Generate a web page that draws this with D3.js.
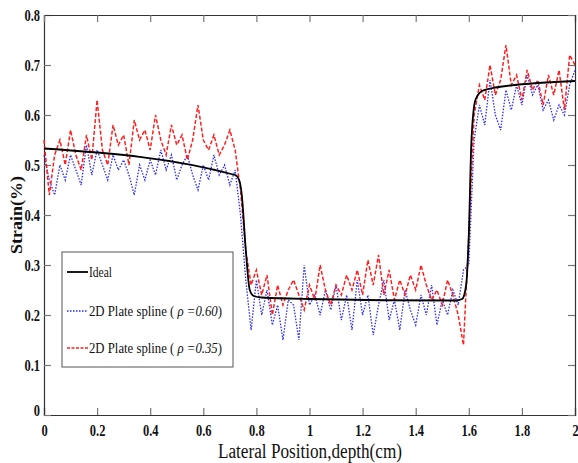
<!DOCTYPE html>
<html>
  <head>
    <script src="https://cdn.jsdelivr.net/npm/d3@7"></script>
    <style>
      body { margin: 0; background: #fff; }
      text { font-family: 'Liberation Serif', 'Times New Roman', serif; }
    </style>
  </head>
  <body>
    <svg width="578" height="463" id="mainsvg"></svg>
    <script>
      const svg = d3.select('#mainsvg');
      const margin = {top: 15, right: 3, bottom: 48, left: 44};
      const innerWidth = 578 - margin.left - margin.right;
      const innerHeight = 463 - margin.top - margin.bottom;

      // sample positions for the noisy series (0 to 2, step 0.02)
      const xPos = d3.range(0, 101).map(i => +(i * 0.02).toFixed(2));
      const redValues = [
        0.55, 0.44, 0.52, 0.55, 0.50, 0.57, 0.52, 0.49, 0.56, 0.51,
        0.63, 0.53, 0.50, 0.58, 0.54, 0.56, 0.50, 0.59, 0.55, 0.57,
        0.53, 0.60, 0.55, 0.52, 0.58, 0.54, 0.56, 0.51, 0.55, 0.62,
        0.55, 0.53, 0.56, 0.52, 0.54, 0.57, 0.53, 0.45, 0.33, 0.26,
        0.29, 0.24, 0.28, 0.20, 0.26, 0.22, 0.25, 0.27, 0.24, 0.21,
        0.26, 0.23, 0.30, 0.25, 0.22, 0.26, 0.24, 0.28, 0.25, 0.29,
        0.24, 0.31, 0.26, 0.32, 0.24, 0.29, 0.23, 0.27, 0.24, 0.28,
        0.25, 0.30, 0.26, 0.23, 0.25, 0.22, 0.27, 0.24, 0.20, 0.14,
        0.36, 0.60, 0.66, 0.63, 0.70, 0.64, 0.67, 0.74, 0.66, 0.68,
        0.63, 0.69, 0.65, 0.67, 0.62, 0.68, 0.64, 0.69, 0.61, 0.72,
        0.70
      ];
      const blueValues = [
        0.52, 0.47, 0.44, 0.50, 0.47, 0.52, 0.49, 0.46, 0.54, 0.48,
        0.53, 0.50, 0.47, 0.52, 0.49, 0.51, 0.48, 0.44, 0.50, 0.47,
        0.51, 0.48, 0.53, 0.49, 0.52, 0.47, 0.50, 0.52, 0.48, 0.45,
        0.50, 0.47, 0.52, 0.48, 0.50, 0.46, 0.49, 0.40, 0.27, 0.17,
        0.27, 0.20, 0.25, 0.18, 0.22, 0.15, 0.23, 0.22, 0.15, 0.30,
        0.22, 0.24, 0.20, 0.25, 0.21, 0.26, 0.19, 0.24, 0.17, 0.27,
        0.20, 0.24, 0.16, 0.22, 0.27, 0.19, 0.23, 0.17, 0.25, 0.21,
        0.18, 0.24, 0.20, 0.26, 0.18, 0.23, 0.20, 0.25, 0.22, 0.29,
        0.30, 0.55, 0.62, 0.58, 0.67, 0.60, 0.57, 0.65, 0.61, 0.66,
        0.62, 0.68, 0.64, 0.66, 0.61, 0.63, 0.59, 0.62, 0.60, 0.66,
        0.69
      ];
      // ideal profile (knots)
      const idealX = [0, 0.72, 0.735, 0.745, 0.76, 0.775, 0.79, 0.82, 1.0, 1.55, 1.575, 1.59, 1.6, 1.61, 1.625, 1.65, 1.7, 2.0];
      const idealY = [0.533, 0.48, 0.47, 0.44, 0.33, 0.25, 0.238, 0.235, 0.232, 0.229, 0.232, 0.26, 0.36, 0.55, 0.63, 0.648, 0.655, 0.668];

      const xTicks = [0, 0.2, 0.4, 0.6, 0.8, 1, 1.2, 1.4, 1.6, 1.8, 2];
      const yTicks = [0, 0.1, 0.2, 0.3, 0.4, 0.5, 0.6, 0.7, 0.8];

      const xScale = d3.scaleLinear().domain([0, 2]).range([0, innerWidth]);
      const yScale = d3.scaleLinear().domain([0, 0.8]).range([innerHeight, 0]);

      const g = svg.append('g')
        .attr('transform', `translate(${margin.left}, ${margin.top})`)
        .attr('id', 'maingroup');

      // axes with inward ticks
      const xAxis = d3.axisBottom(xScale).tickValues(xTicks).tickSize(-7).tickPadding(10)
        .tickFormat(d => d3.format('')(d));
      const yAxis = d3.axisLeft(yScale).tickValues(yTicks).tickSize(-7).tickPadding(4)
        .tickFormat(d => d3.format('')(d));

      const xAxisGroup = g.append('g').attr('transform', `translate(0, ${innerHeight})`).call(xAxis);
      const yAxisGroup = g.append('g').call(yAxis);
      const topAxis = g.append('g').call(d3.axisTop(xScale).tickValues(xTicks).tickSize(-7).tickFormat(''));
      const rightAxis = g.append('g').attr('transform', `translate(${innerWidth}, 0)`)
        .call(d3.axisRight(yScale).tickValues(yTicks).tickSize(-7).tickFormat(''));

      [xAxisGroup, yAxisGroup, topAxis, rightAxis].forEach(ag => {
        ag.selectAll('.domain').attr('stroke', '#333').attr('stroke-width', 1.2);
        ag.selectAll('.tick line').attr('stroke', '#777').attr('stroke-width', 1.2);
      });
      xAxisGroup.selectAll('.tick text')
        .attr('font-size', 16).attr('font-weight', 'bold').attr('fill', '#111')
        .attr('transform', 'scale(0.78,1)');
      yAxisGroup.selectAll('.tick text')
        .attr('font-size', 16).attr('font-weight', 'bold').attr('fill', '#111')
        .attr('transform', 'scale(0.78,1)');
      yAxisGroup.selectAll('.tick text').attr('x', -4 / 0.78).attr('dy', '0.32em');
      // '0' on y sits slightly above the axis
      yAxisGroup.selectAll('.tick text').filter(d => d === 0).attr('dy', '0em');

      // series
      const line = d3.line().x(d => xScale(d[0])).y(d => yScale(d[1]));
      const blueData = xPos.map((x, i) => [x, blueValues[i]]);
      const redData = xPos.map((x, i) => [x, redValues[i]]);
      const idealData = idealX.map((x, i) => [x, idealY[i]]);

      g.append('path').datum(blueData)
        .attr('d', line).attr('fill', 'none')
        .attr('stroke', '#2a2aff').attr('stroke-width', 1.3)
        .attr('stroke-dasharray', '1.5,1.5');
      g.append('path').datum(redData)
        .attr('d', line).attr('fill', 'none')
        .attr('stroke', '#ff1f1f').attr('stroke-width', 1.5)
        .attr('stroke-dasharray', '4,2');
      g.append('path').datum(idealData)
        .attr('d', line.curve(d3.curveMonotoneX)).attr('fill', 'none')
        .attr('stroke', '#000').attr('stroke-width', 1.8);

      // legend
      const legend = svg.append('g').attr('transform', 'translate(62, 252)');
      legend.append('rect').attr('width', 171).attr('height', 115)
        .attr('fill', '#fff').attr('stroke', '#555').attr('stroke-width', 1);
      const legendItems = [
        {label: 'Ideal', color: '#000', dash: null, width: 1.8, y: 20},
        {label: '0.60', color: '#2a2aff', dash: '1.5,1.5', width: 1.3, y: 59},
        {label: '0.35', color: '#ff1f1f', dash: '3,1.5', width: 1.3, y: 96}
      ];
      legendItems.forEach(item => {
        legend.append('line').attr('x1', 5).attr('x2', 26).attr('y1', item.y).attr('y2', item.y)
          .attr('stroke', item.color).attr('stroke-width', item.width)
          .attr('stroke-dasharray', item.dash);
        const t = legend.append('text').attr('x', 27).attr('y', item.y + 5)
          .attr('font-size', 15).attr('fill', '#111');
        if (item.label === 'Ideal') {
          t.text('Ideal');
        } else {
          t.append('tspan').text('2D Plate spline ( ');
          t.append('tspan').attr('font-style', 'italic').text('ρ =' + item.label);
          t.append('tspan').text(')');
        }
        t.attr('textLength', item.label === 'Ideal' ? 23 : 133).attr('lengthAdjust', 'spacingAndGlyphs');
      });

      // axis labels
      svg.append('text').attr('x', 310).attr('y', 458)
        .attr('text-anchor', 'middle').attr('font-size', 20).attr('fill', '#111')
        .attr('textLength', 184).attr('lengthAdjust', 'spacingAndGlyphs')
        .text('Lateral Position,depth(cm)');
      svg.append('text').attr('transform', 'translate(22, 215) rotate(-90)')
        .attr('text-anchor', 'middle').attr('font-size', 17).attr('font-weight', 'bold').attr('fill', '#111')
        .attr('textLength', 78).attr('lengthAdjust', 'spacingAndGlyphs')
        .text('Strain(%)');
    </script>
  </body>
</html>
